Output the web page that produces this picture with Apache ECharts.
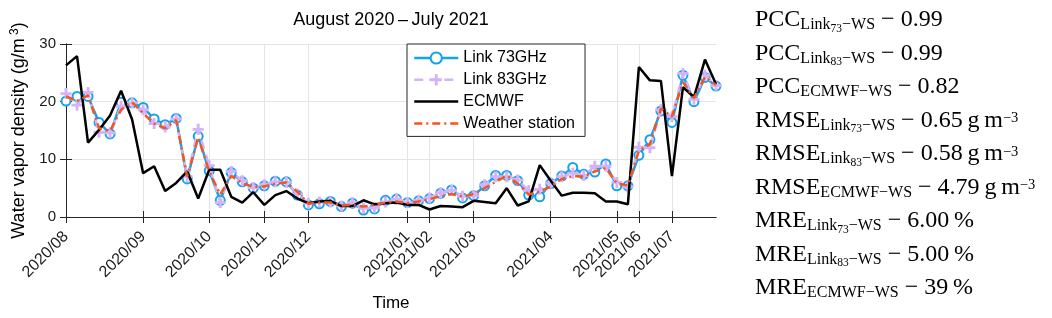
<!DOCTYPE html>
<html>
<head>
<meta charset="utf-8">
<script src="https://cdn.jsdelivr.net/npm/echarts@6/dist/echarts.min.js"></script>
<style>
  html, body { margin: 0; padding: 0; background: #fff; }
  #chart { width: 1052px; height: 318px; }
</style>
</head>
<body>
<div id="chart"></div>
<script>
// sample index along x (60 samples), values in g/m^3
const link73 = [20.1, 20.9, 20.9, 16.4, 14.4, 19.9, 19.8, 19.0, 17.0, 16.0,
  17.1, 6.6, 14.0, 8.0, 2.9, 7.7, 6.1, 5.0, 5.4, 6.2,
  6.1, 3.8, 2.1, 2.3, 2.7, 1.8, 2.4, 1.2, 1.4, 2.9,
  3.1, 2.5, 2.8, 3.2, 4.1, 4.7, 3.3, 3.7, 5.4, 7.2,
  7.2, 6.3, 3.8, 3.5, 5.8, 7.1, 8.6, 7.4, 7.8, 9.2,
  5.4, 5.4, 10.7, 13.4, 18.4, 16.4, 24.6, 20.0, 24.2, 22.7];

const link83 = [21.4, 19.4, 21.6, 14.7, 14.6, 19.2, 19.8, 18.6, 16.2, 15.6,
  17.0, 7.0, 15.2, 8.9, 2.5, 7.9, 6.3, 5.1, 5.6, 6.1,
  6.0, 4.0, 2.4, 2.6, 2.6, 1.9, 2.5, 1.5, 1.6, 2.6,
  3.1, 2.5, 2.9, 3.3, 4.2, 4.6, 3.6, 3.7, 5.6, 7.0,
  7.0, 6.4, 4.6, 4.8, 5.9, 7.0, 7.6, 7.2, 8.8, 8.8,
  6.0, 5.2, 12.1, 12.0, 18.6, 17.4, 24.9, 20.4, 24.6, 22.8];

const ecmwf = [26.3, 27.9, 12.9, 15.1, 17.6, 21.9, 16.9, 7.6, 8.8, 4.5,
  5.9, 7.9, 3.2, 8.2, 8.2, 3.5, 2.5, 4.3, 2.1, 3.8,
  4.5, 3.2, 2.4, 2.7, 2.8, 1.9, 1.9, 2.9, 2.2, 2.4,
  2.5, 2.1, 2.1, 1.3, 1.9, 1.8, 1.7, 2.8, 2.6, 2.4,
  5.0, 2.0, 2.7, 9.0, 6.3, 3.7, 4.2, 4.2, 4.1, 2.7,
  2.7, 2.2, 26.0, 23.7, 23.6, 7.1, 22.5, 20.8, 27.3, 23.0];

const station = [20.9, 20.1, 21.1, 15.4, 14.9, 18.6, 19.9, 18.0, 16.2, 15.4,
  16.8, 7.0, 13.8, 7.9, 3.9, 7.1, 5.9, 5.2, 5.3, 5.8,
  6.0, 4.4, 2.3, 2.5, 2.5, 2.0, 2.1, 1.8, 2.1, 2.5,
  2.7, 2.4, 2.7, 3.1, 3.6, 4.0, 3.5, 4.0, 5.0, 6.1,
  7.2, 5.8, 3.9, 4.4, 5.3, 6.6, 7.1, 7.0, 7.9, 8.5,
  5.8, 5.5, 11.5, 12.6, 18.8, 17.4, 23.4, 20.6, 24.3, 22.9];

// first sample of each month
const tickPos = [0, 7, 13, 18, 22, 31, 33, 37, 44, 50, 52, 55];
const tickLabels = ['2020/08', '2020/09', '2020/10', '2020/11', '2020/12', '2021/01',
  '2021/02', '2021/03', '2021/04', '2021/05', '2021/06', '2021/07'];

const seriesNames = ['Link 73GHz', 'Link 83GHz', 'ECMWF', 'Weather station'];

// statistics shown on the right
const metricNames = ['PCC', 'PCC', 'PCC', 'RMSE', 'RMSE', 'RMSE', 'MRE', 'MRE', 'MRE'];
const metricSources = ['Link73', 'Link83', 'ECMWF', 'Link73', 'Link83', 'ECMWF', 'Link73', 'Link83', 'ECMWF'];
const metricValues = ['0.99', '0.99', '0.82', '0.65', '0.58', '4.79', '6.00', '5.00', '39'];
const metricUnits = ['', '', '', 'gm', 'gm', 'gm', '%', '%', '%'];

const SANS = 'Liberation Sans, Arial, sans-serif';
const SERIF = 'Liberation Serif, Times New Roman, serif';
const AXIS_COLOR = '#262626';
const GRID_COLOR = '#e4e4e4';
const PLUS = 'path://M-1.3,-5H1.3V-1.3H5V1.3H1.3V5H-1.3V1.3H-5V-1.3H-1.3Z';

const toPairs = arr => arr.map((v, i) => [i, v]);

/**
 * Build rich text for one statistics line
 */
function metricText(i) {
  const src = metricSources[i];
  let sub;
  if (src.startsWith('Link')) {
    sub = '{s|Link}{ss|' + src.slice(4) + '}{s|\u2212WS}';
  } else {
    sub = '{s|' + src + '\u2212WS}';
  }
  let tail = '{m| \u2212 ' + metricValues[i] + '}';
  if (metricUnits[i] === 'gm') {
    tail = '{m| \u2212 ' + metricValues[i] + '\u2009g\u2009m}{sup|\u22123}';
  } else if (metricUnits[i] === '%') {
    tail = '{m| \u2212 ' + metricValues[i] + '\u2009%}';
  }
  return '{m|' + metricNames[i] + '}' + sub + tail;
}

const metricRich = {
  m: { fontSize: 24, fontFamily: SERIF, color: '#000', lineHeight: 30 },
  s: { fontSize: 16, fontFamily: SERIF, color: '#000', lineHeight: 30, padding: [10, 0, 0, 0] },
  ss: { fontSize: 11.5, fontFamily: SERIF, color: '#000', lineHeight: 30, padding: [17, 0, 0, 0] },
  sup: { fontSize: 14.5, fontFamily: SERIF, color: '#000', lineHeight: 30, padding: [0, 0, 4, 0] }
};

const graphics = [{
  type: 'text',
  x: 391,
  y: 20,
  style: {
    text: 'August 2020\u2009\u2013\u2009July 2021',
    fontSize: 18,
    fontFamily: SANS,
    fill: '#000',
    align: 'center',
    verticalAlign: 'middle',
    textAlign: 'center',
    textVerticalAlign: 'middle'
  }
}];

metricNames.forEach((n, i) => {
  graphics.push({
    type: 'text',
    x: 755,
    y: 19 + i * 33.5 - 14,
    style: {
      text: metricText(i),
      rich: metricRich,
      fontSize: 24,
      fontFamily: SERIF,
      fill: '#000'
    }
  });
});

const chart = echarts.init(document.getElementById('chart'));

const option = {
  animation: false,
  backgroundColor: '#fff',
  grid: { left: 66, top: 44, width: 650, height: 173 },
  graphic: graphics,
  legend: {
    left: 407,
    top: 44,
    orient: 'vertical',
    itemWidth: 44,
    itemHeight: 14,
    itemGap: 5.8,
    padding: [6, 10, 5, 6],
    borderColor: AXIS_COLOR,
    borderWidth: 1,
    backgroundColor: '#fff',
    lineStyle: { width: 2.5 },
    textStyle: { fontSize: 16, fontFamily: SANS, color: '#000' },
    data: [
      { name: seriesNames[0] },
      { name: seriesNames[1] },
      { name: seriesNames[2], itemStyle: { opacity: 0 } },
      { name: seriesNames[3], itemStyle: { opacity: 0 } }
    ]
  },
  xAxis: [{
    type: 'value',
    min: 0,
    max: 59,
    name: 'Time',
    nameLocation: 'middle',
    nameGap: 78,
    nameTextStyle: { fontSize: 17, fontFamily: SANS, color: '#000' },
    axisLine: { lineStyle: { color: AXIS_COLOR, width: 1 } },
    axisTick: { inside: true, length: 6, customValues: tickPos, lineStyle: { color: AXIS_COLOR } },
    axisLabel: {
      customValues: tickPos,
      rotate: 45,
      margin: 17,
      fontSize: 16,
      fontFamily: SANS,
      color: '#1a1a1a',
      formatter: v => tickLabels[tickPos.indexOf(v)] || ''
    },
    splitLine: { show: true, lineStyle: { color: GRID_COLOR, width: 1 } }
  }, {
    type: 'value',
    position: 'top',
    min: 0,
    max: 59,
    axisLine: { lineStyle: { color: AXIS_COLOR, width: 1 } },
    axisTick: { inside: true, length: 6, customValues: tickPos, lineStyle: { color: AXIS_COLOR } },
    axisLabel: { show: false },
    splitLine: { show: false }
  }],
  yAxis: [{
    type: 'value',
    min: 0,
    max: 30,
    interval: 10,
    name: '{a|Water vapor density (g/m}{p| 3}{a|)}',
    nameLocation: 'middle',
    nameGap: 30,
    nameTextStyle: {
      rich: {
        a: { fontSize: 18, fontFamily: SANS, color: '#000' },
        p: { fontSize: 12, fontFamily: SANS, color: '#000', padding: [0, 0, 10, 0] }
      }
    },
    axisLine: { show: true, lineStyle: { color: AXIS_COLOR, width: 1 } },
    axisTick: { show: true, inside: true, length: 6, lineStyle: { color: AXIS_COLOR } },
    axisLabel: { fontSize: 15, fontFamily: SANS, color: '#1a1a1a', margin: 10 },
    splitLine: { show: true, lineStyle: { color: GRID_COLOR, width: 1 } }
  }, {
    type: 'value',
    position: 'right',
    min: 0,
    max: 30,
    interval: 10,
    axisLine: { show: true, lineStyle: { color: AXIS_COLOR, width: 1 } },
    axisTick: { show: true, inside: true, length: 6, lineStyle: { color: AXIS_COLOR } },
    axisLabel: { show: false },
    splitLine: { show: false }
  }],
  series: [{
    name: seriesNames[0],
    type: 'line',
    data: toPairs(link73),
    symbol: 'emptyCircle',
    symbolSize: 9,
    lineStyle: { color: '#14a3ee', width: 2.5 },
    itemStyle: { color: '#14a3ee', borderWidth: 3 },
    z: 2
  }, {
    name: seriesNames[1],
    type: 'line',
    data: toPairs(link83),
    symbol: PLUS,
    symbolSize: 11,
    lineStyle: { color: '#d4b3f8', width: 2.5, type: [9, 6] },
    itemStyle: { color: '#d4b3f8' },
    z: 3
  }, {
    name: seriesNames[2],
    type: 'line',
    data: toPairs(ecmwf),
    symbol: 'none',
    lineStyle: { color: '#000', width: 2.5 },
    itemStyle: { color: '#000' },
    z: 4
  }, {
    name: seriesNames[3],
    type: 'line',
    data: toPairs(station),
    symbol: 'none',
    lineStyle: { color: '#f4561f', width: 2.5, type: [8, 4, 2, 4] },
    itemStyle: { color: '#f4561f' },
    z: 5
  }]
};

chart.setOption(option);
</script>
</body>
</html>
